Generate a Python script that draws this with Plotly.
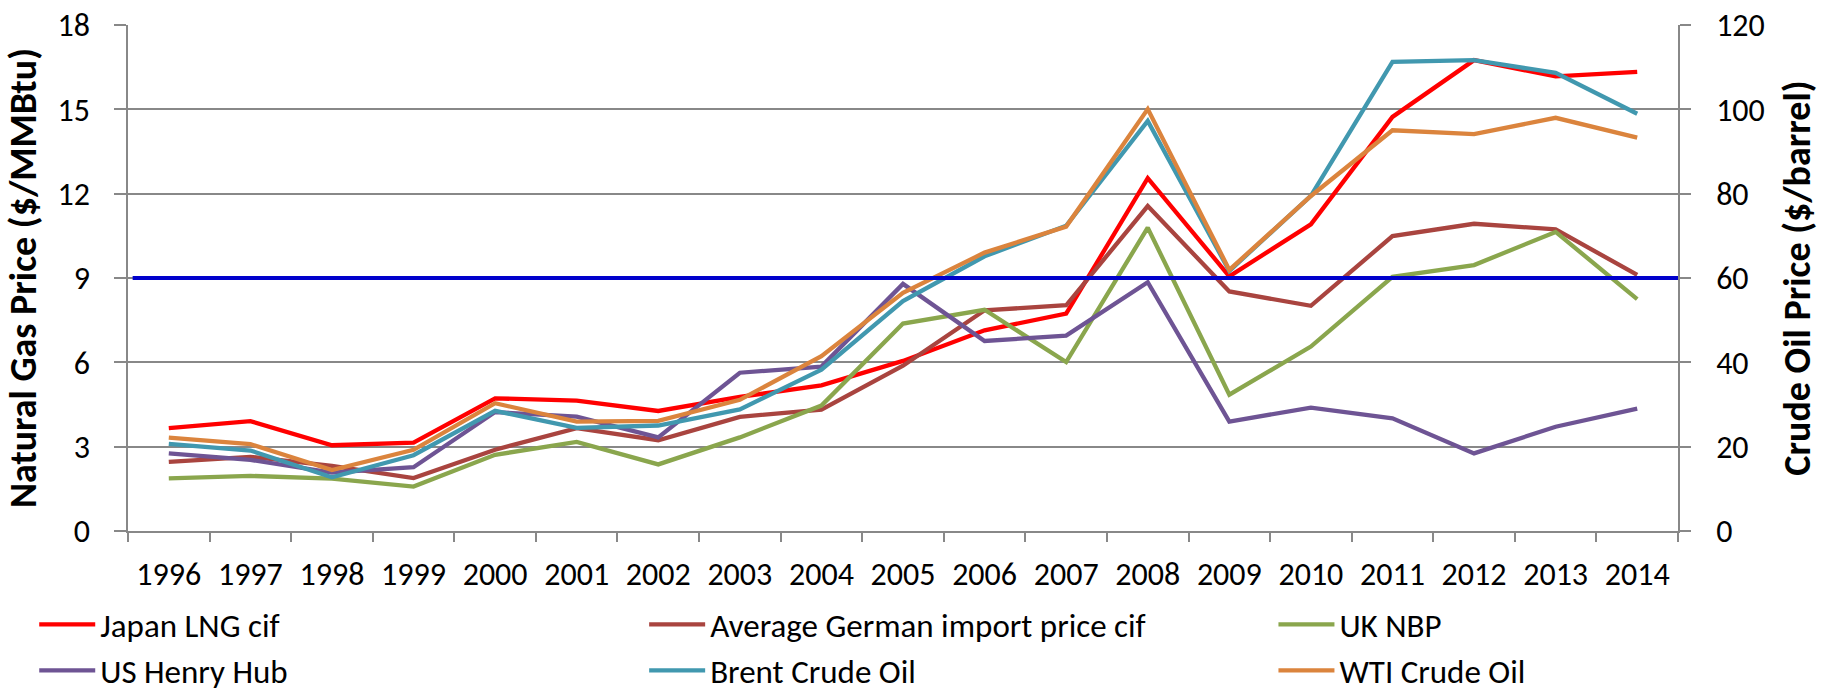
import plotly.graph_objects as go

years = ["1996", "1997", "1998", "1999", "2000", "2001", "2002", "2003", "2004", "2005",
         "2006", "2007", "2008", "2009", "2010", "2011", "2012", "2013", "2014"]

japan_lng = [3.66, 3.91, 3.05, 3.14, 4.72, 4.64, 4.27, 4.77, 5.18, 6.05,
             7.14, 7.73, 12.55, 9.06, 10.91, 14.73, 16.75, 16.17, 16.33]
german_import = [2.46, 2.64, 2.32, 1.88, 2.89, 3.66, 3.23, 4.06, 4.32, 5.88,
                 7.85, 8.03, 11.56, 8.52, 8.01, 10.49, 10.93, 10.73, 9.11]
uk_nbp = [1.87, 1.96, 1.86, 1.58, 2.71, 3.17, 2.37, 3.33, 4.46, 7.38,
          7.87, 6.01, 10.79, 4.85, 6.56, 9.04, 9.46, 10.64, 8.25]
us_henry_hub = [2.76, 2.53, 2.08, 2.27, 4.23, 4.07, 3.33, 5.63, 5.85, 8.79,
                6.76, 6.95, 8.85, 3.89, 4.39, 4.01, 2.76, 3.71, 4.35]
brent = [20.67, 19.09, 12.72, 17.97, 28.50, 24.44, 25.02, 28.83, 38.27, 54.52,
         65.14, 72.39, 97.26, 61.67, 79.50, 111.26, 111.67, 108.66, 98.95]
wti = [22.16, 20.61, 14.45, 19.25, 30.30, 25.95, 26.11, 31.12, 41.44, 56.49,
       66.02, 72.20, 100.06, 61.92, 79.45, 95.04, 94.13, 97.99, 93.28]

threshold_gas = 9

# (name, values, colour, axis, legend column)
series = [
    ("Japan LNG cif", japan_lng, "#FF0000", "y", "legend"),
    ("Average German import price cif", german_import, "#A9443F", "y", "legend2"),
    ("UK NBP", uk_nbp, "#8AA64D", "y", "legend3"),
    ("US Henry Hub", us_henry_hub, "#6E5494", "y", "legend"),
    ("Brent Crude Oil", brent, "#4198AF", "y2", "legend2"),
    ("WTI Crude Oil", wti, "#DB843D", "y2", "legend3"),
]

FONT = "Carlito, Lato, 'Liberation Sans', sans-serif"
LEGEND_FONT = "Carlito, 'Open Sans', Lato, sans-serif"
GRID = "#888888"

fig = go.Figure()
for name, vals, col, ax, leg in series:
    fig.add_trace(go.Scatter(x=years, y=vals, name=name, mode="lines",
                             line=dict(color=col, width=4.3), yaxis=ax,
                             legend=leg, legendgroup=name))

fig.add_shape(type="line", xref="paper", yref="y", x0=0.003, x1=1,
              y0=threshold_gas, y1=threshold_gas,
              line=dict(color="#0000CC", width=3.8), layer="above")


def legend_box(xpos):
    return dict(orientation="v", xref="paper", yref="container",
                x=xpos, xanchor="left", y=0.143, yanchor="top",
                font=dict(size=33, family=LEGEND_FONT), tracegroupgap=0,
                itemwidth=56, bgcolor="rgba(0,0,0,0)")


fig.update_layout(
    width=1833, height=696,
    margin=dict(l=128, r=155, t=25, b=165),
    paper_bgcolor="white", plot_bgcolor="white",
    font=dict(family=FONT, size=32, color="black"),
    showlegend=True,
    legend=legend_box(-0.0605),
    legend2=legend_box(0.333),
    legend3=legend_box(0.739),
    xaxis=dict(type="category", range=[-0.5, len(years) - 0.5],
               tickson="boundaries", ticks="outside", ticklen=9,
               tickcolor=GRID, tickwidth=1.5, showline=True, linecolor=GRID,
               linewidth=1.5, showgrid=False, ticklabelstandoff=14, tickangle=0,
               tickfont=dict(size=32), automargin=False),
    yaxis=dict(range=[0, 18], dtick=3, tick0=0, ticks="outside", ticklen=12,
               tickcolor=GRID, tickwidth=1.5, showline=True, linecolor=GRID,
               linewidth=1.5, showgrid=True, gridcolor=GRID, gridwidth=1.5,
               zeroline=False, ticklabelstandoff=18, tickfont=dict(size=32),
               automargin=False,
               title=dict(text="<b>Natural Gas Price ($/MMBtu)</b>",
                          font=dict(size=38), standoff=10)),
    yaxis2=dict(range=[0, 120], dtick=20, tick0=0, overlaying="y", side="right",
                ticks="outside", ticklen=11, tickcolor=GRID, tickwidth=1.5,
                showline=True, linecolor=GRID, linewidth=1.5, showgrid=False,
                zeroline=False, ticklabelstandoff=19, tickfont=dict(size=32),
                automargin=False,
                title=dict(text="<b>Crude Oil Price ($/barrel)</b>",
                           font=dict(size=38), standoff=20)),
)

fig.write_html("out.html",
               config={"displayModeBar": False},
               post_script="document.body.style.margin='0px';"
                           "document.body.style.overflow='hidden';")
